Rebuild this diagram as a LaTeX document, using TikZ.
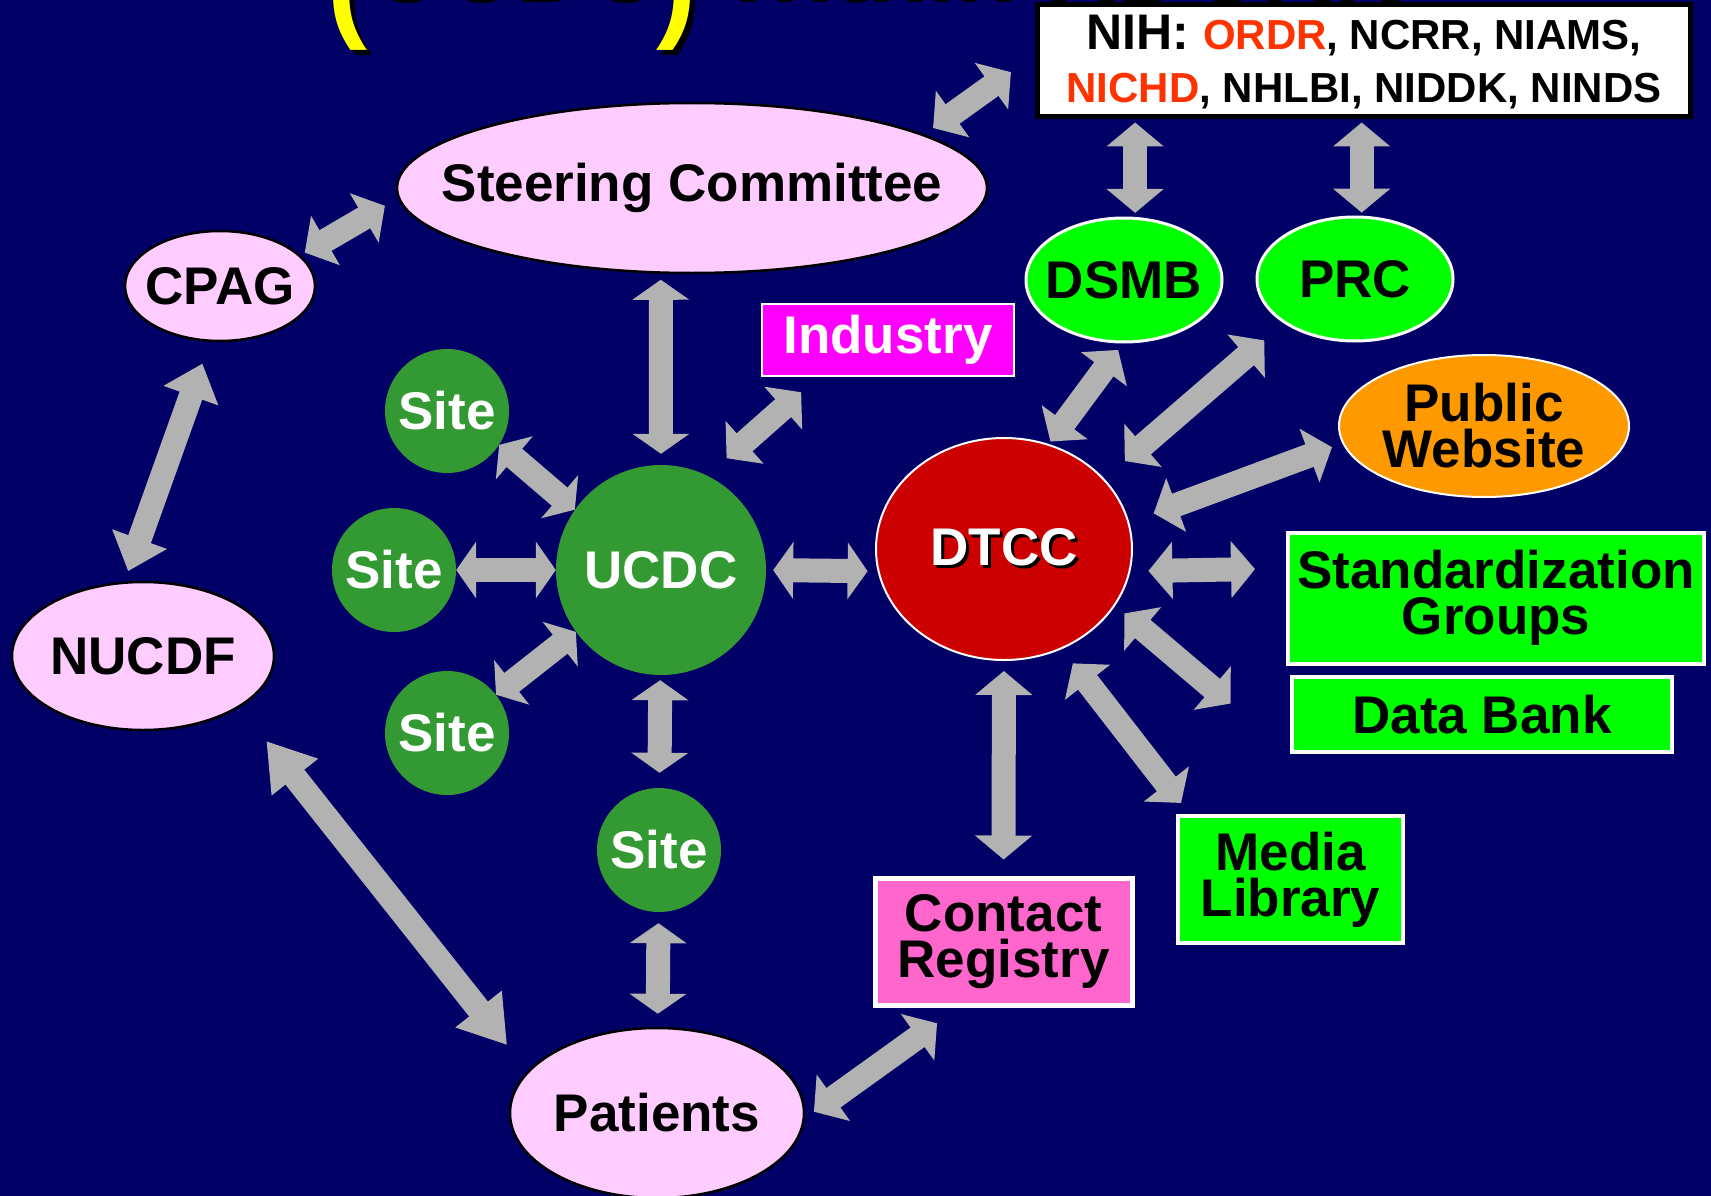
\documentclass[tikz,border=0pt]{standalone}
\usepackage{fontspec}
\setmainfont{Liberation Sans}
\usetikzlibrary{arrows.meta,shapes.geometric}
\definecolor{navy}{HTML}{000066}
\definecolor{lilac}{HTML}{FFCCFF}
\definecolor{leaf}{HTML}{339933}
\definecolor{blood}{HTML}{CC0000}
\definecolor{lime}{HTML}{00FF00}
\definecolor{amber}{HTML}{FF9900}
\definecolor{fuchsia}{HTML}{FF00FF}
\definecolor{rose}{HTML}{FF66CC}
\definecolor{arrgray}{HTML}{B2B2B2}
\definecolor{sun}{HTML}{FFFF00}
\definecolor{nihred}{HTML}{FF3300}
\newcommand\dropshadow[2]{\rlap{\kern#1\raisebox{-#1}{\color{black}#2}}#2}
\newcommand\bigparen[1]{\raisebox{-28pt}{\fontsize{120}{120}\selectfont#1}}

\begin{document}
\begin{tikzpicture}[x=1pt,y=-1pt,
every node/.style={font=\fontsize{53}{46}\selectfont\bfseries,inner sep=0pt,align=center},
oval/.style={ellipse,draw=black,line width=2.5pt,fill=lilac},
site/.style={circle,fill=leaf,text=white,minimum size=124pt},
board/.style={ellipse,draw=white,line width=3pt,fill=lime,minimum width=196pt,minimum height=124pt},
panel/.style={rectangle,draw=white,line width=4pt,fill=lime},
dar/.style={draw=arrgray,line width=24pt,{Triangle[width=56pt,length=#1]}-{Triangle[width=56pt,length=#1]}},
dar/.default=24pt]
\clip (0,0) rectangle (1711,1196);
\fill[navy] (0,0) rectangle (1711,1196);
\node[anchor=base west,text=sun,font=\fontsize{100}{100}\selectfont\bfseries] (title) at (327,-2) {\dropshadow{5pt}{\bigparen{(}UCDC\bigparen{)} within RDCRN}};
\node[rectangle,draw=black,line width=5pt,fill=white,minimum width=653pt,minimum height=112pt] (nih) at (1363.5,61) {};
\node[anchor=base] (nih1) at (1364,50) {\fontsize{50}{50}\selectfont NIH: \fontsize{42}{50}\selectfont\textcolor{nihred}{ORDR}, NCRR, NIAMS,};
\node[anchor=base] (nih2) at (1364,103) {\fontsize{42}{50}\selectfont\textcolor{nihred}{NICHD}, NHLBI, NIDDK, NINDS};
\node[oval,minimum width=590pt,minimum height=170pt,label={[name=steerlbl]center:Steering Committee}] (steer) at (692,188) {};
\node[oval,minimum width=190pt,minimum height=110pt,label={[name=cpaglbl]center:CPAG}] (cpag) at (220,286) {};
\node[oval,minimum width=262pt,minimum height=148pt,label={[name=nucdflbl]center:NUCDF}] (nucdf) at (143,656) {};
\node[oval,minimum width=294pt,minimum height=170pt,label={[name=patientslbl]center:Patients}] (patients) at (657,1113) {};
\node[site,minimum size=210pt] (ucdc) at (661,570) {UCDC};
\node[site] (site1) at (447,411) {Site};
\node[site] (site2) at (394,570) {Site};
\node[site] (site3) at (447,733) {Site};
\node[site] (site4) at (659,850) {Site};
\node[rectangle,draw=white,line width=2pt,fill=fuchsia,text=white,minimum width=252pt,minimum height=72pt] (industry) at (888,340) {Industry};
\node[ellipse,draw=white,line width=2pt,fill=blood,minimum width=256pt,minimum height=222pt,label={[name=dtcclbl,text=white]center:\dropshadow{3pt}{DTCC}}] (dtcc) at (1004,549) {};
\node[board,label={[name=dsmblbl]center:DSMB}] (dsmb) at (1124,280) {};
\node[board,label={[name=prclbl]center:PRC}] (prc) at (1355,279) {};
\node[ellipse,draw=white,line width=2pt,fill=amber,minimum width=290pt,minimum height=142pt,label={[name=publiclbl]center:Public\\Website}] (public) at (1484,426) {};
\node[panel,minimum width=416pt,minimum height=131pt] (stdgroups) at (1496,598) {Standardization\\Groups};
\node[panel,minimum width=380pt,minimum height=75pt] (databank) at (1482,714.5) {Data Bank};
\node[panel,minimum width=225pt,minimum height=127pt] (media) at (1290.5,879.5) {Media\\Library};
\node[rectangle,draw=white,line width=5pt,fill=rose,minimum width=257pt,minimum height=127pt] (contact) at (1003.5,941.5) {Contact\\Registry};
\draw[dar,shorten <=11pt,shorten >=29pt] (steer.13) -- (nih.179);
\draw[dar,shorten <=5pt,shorten >=15pt] (cpag.21) -- (steer.182);
\draw[dar=34pt,shorten <=23pt,shorten >=11pt] (cpag.260) -- (nucdf.104);
\draw[dar=46pt,shorten <=43pt,shorten >=33pt] (nucdf.332) -- (patients.162);
\draw[dar=20pt,shorten <=6pt,shorten >=11pt] (steer.250) -- (ucdc.90);
\draw[dar,shorten <=26pt,shorten >=23pt] (ucdc.64) -- (industry.208);
\draw[dar=20pt] (site1.327) -- (ucdc.145);
\draw[dar=20pt] (site2) -- (ucdc);
\draw[dar=20pt] (site3.38) -- (ucdc.216);
\draw[dar=20pt,shorten <=7pt,shorten >=10pt] (ucdc.east) -- (dtcc.190);
\draw[dar=20pt,shorten <=5pt,shorten >=15pt] (ucdc) -- (site4);
\draw[dar=20pt,shorten <=11pt,shorten >=13pt] (site4) -- (patients);
\draw[dar,shorten <=11pt,shorten >=27pt] (patients.358) -- (contact.236);
\draw[dar,shorten <=10pt,shorten >=16pt] (dtcc) -- (contact);
\draw[dar,shorten <=18pt,shorten >=14pt] (dtcc.300) -- (media.147);
\draw[dar,shorten <=12pt,shorten >=78pt] (dtcc.333) -- (databank.south west);
\draw[dar,shorten <=18pt,shorten >=31pt] (dtcc.350) -- (stdgroups.172);
\draw[dar,shorten <=26pt,shorten >=11pt] (dtcc.12) -- (public.187);
\draw[dar,shorten <=27pt,shorten >=26pt] (dtcc.35) -- (prc.212);
\draw[dar,shorten <=3pt,shorten >=8pt] (dtcc.67) -- (dsmb.269);
\draw[dar,shorten <=4pt,shorten >=3pt] (dsmb.80) -- (dsmb.80 |- nih.south);
\draw[dar,shorten <=3pt,shorten >=3pt] (prc.84) -- (prc.84 |- nih.south);
\end{tikzpicture}
\end{document}
